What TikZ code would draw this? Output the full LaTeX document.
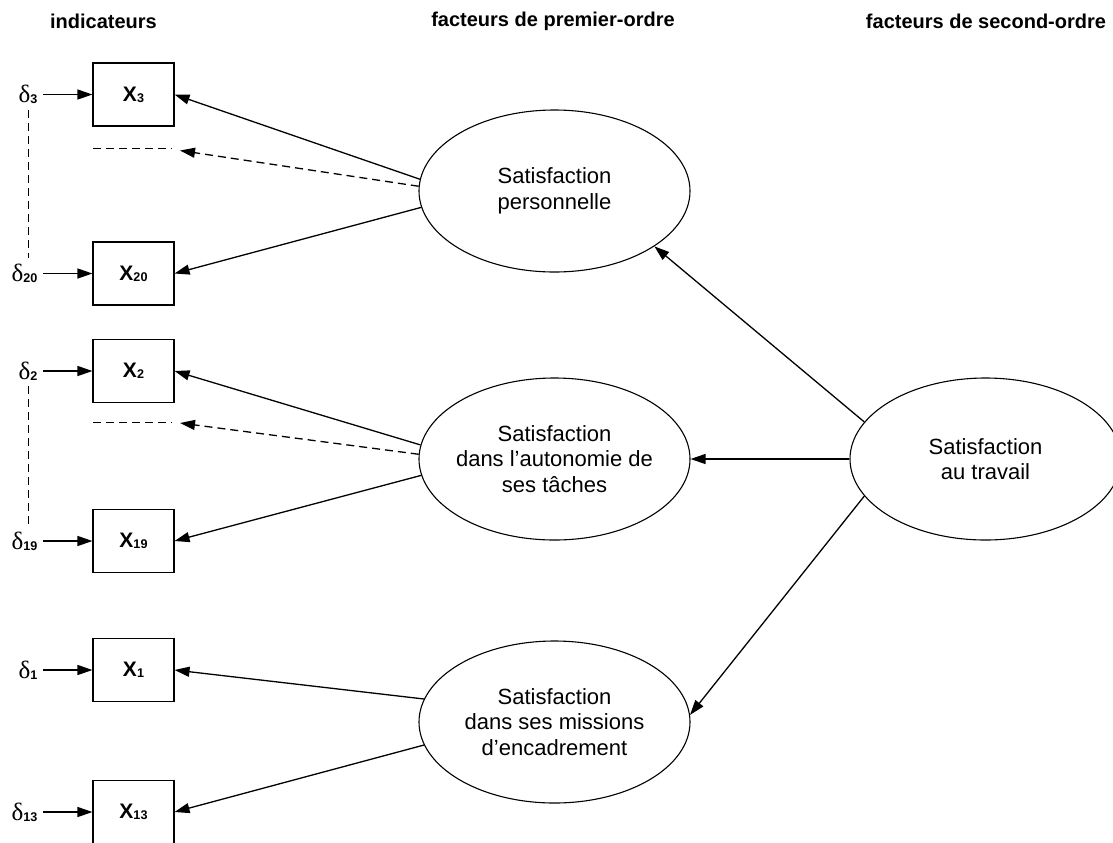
\documentclass[tikz,border=0pt]{standalone}
\usepackage{fontspec}
\setmainfont{Liberation Sans}
\newfontfamily\greekfont{Liberation Serif}
\usetikzlibrary{arrows.meta, shapes.geometric, positioning}

\newcommand{\idx}[1]{{\fontsize{6.3pt}{6.3pt}\selectfont\bfseries\raisebox{-0.6pt}{#1}}}
\newcommand{\dlt}[1]{{\greekfont\fontsize{12.5pt}{13pt}\selectfont δ}\idx{#1}}
\newcommand{\xvar}[1]{X\idx{#1}}

\begin{document}
\begin{tikzpicture}[x=0.5pt, y=-0.5pt, line width=0.65pt,
    ind/.style={draw, line width=0.55pt, minimum width=40.5pt, minimum height=31.5pt, inner sep=0pt,
                font=\fontsize{10.5pt}{11pt}\selectfont\bfseries},
    err/.style={inner sep=0pt, outer sep=3pt},
    fac/.style={draw, line width=0.55pt, ellipse, minimum width=135.5pt, minimum height=81pt, inner sep=0pt},
    factxt/.style={align=center, font=\fontsize{11pt}{12.85pt}\selectfont},
    head/.style={font=\fontsize{10pt}{12pt}\selectfont\bfseries},
    load/.style={-{Triangle[length=7.5pt, width=5pt]}},
    gap/.style={dash pattern=on 4pt off 2.5pt}]
    \useasboundingbox (0,0) rectangle (1113,842);

    % column titles
    \node[head] (hind) at (103.5,21) {indicateurs};
    \node[head] (hpre) at (553,21) {facteurs de premier-ordre};
    \node[head] (hsec) at (986,21) {facteurs de second-ordre};

    % factors
    \node[fac] (perso) at (554.5,191) {};
    \node[factxt] at (perso) {Satisfaction\\personnelle};
    \node[fac] (auto) at (554.5,459) {};
    \node[factxt] at (auto) {Satisfaction\\dans l’autonomie de\\ses tâches};
    \node[fac] (encad) at (554.5,722) {};
    \node[factxt] at (encad) {Satisfaction\\dans ses missions\\d’encadrement};
    \node[fac] (trav) at (985.5,459) {};
    \node[factxt] at (trav) {Satisfaction\\au travail};

    % indicators and their errors
    \node[ind] (x3) at (133.5,94.5) {\xvar{3}};
    \node[ind] (x20) at (133.5,273.5) {\xvar{20}};
    \node[ind] (x2) at (133.5,371) {\xvar{2}};
    \node[ind] (x19) at (133.5,541) {\xvar{19}};
    \node[ind] (x1) at (133.5,670) {\xvar{1}};
    \node[ind] (x13) at (133.5,812) {\xvar{13}};

    \node[err, left=24.5pt of x3] (d3) {\dlt{3}};
    \node[err, left=24.5pt of x20] (d20) {\dlt{20}};
    \node[err, left=24.5pt of x2] (d2) {\dlt{2}};
    \node[err, left=24.5pt of x19] (d19) {\dlt{19}};
    \node[err, left=24.5pt of x1] (d1) {\dlt{1}};
    \node[err, left=24.5pt of x13] (d13) {\dlt{13}};

    \draw[load] (d3) -- (x3);
    \draw[load] (d20) -- (x20);
    \draw[load] (d2) -- (x2);
    \draw[load] (d19) -- (x19);
    \draw[load] (d1) -- (x1);
    \draw[load] (d13) -- (x13);

    % omitted indicators
    \draw[gap, line width=0.5pt] (d3.south) -- (d3.south |- d20.north);
    \draw[gap, line width=0.5pt] (d2.south) -- (d2.south |- d19.north);
    \coordinate (g3a) at (93,148);
    \coordinate (g3b) at (172,148);
    \coordinate (g3c) at (180,150.5);
    \coordinate (g2a) at (93,422);
    \coordinate (g2b) at (172,422);
    \coordinate (g2c) at (180,423);
    \draw[gap, line width=0.5pt] (g3a) -- (g3b);
    \draw[gap, line width=0.5pt] (g2a) -- (g2b);

    % first-order loadings
    \draw[load] (perso.175) -- (x3.east);
    \draw[gap, load] (perso.178.7) -- (g3c);
    \draw[load] (perso.187.6) -- (x20.east);
    \draw[load] (auto.174.8) -- (x2.east);
    \draw[gap, load] (auto.178.3) -- (g2c);
    \draw[load] (auto.187.7) -- (x19.east);
    \draw[load] (encad.170.9) -- (x1.east);
    \draw[load] (encad.190.8) -- (x13.east);

    % second-order loadings
    \draw[load] (trav.163.2) -- (perso.-29.3);
    \draw[load] (trav.180) -- (auto.0);
    \draw[load] (trav.197.2) -- (encad.3);
\end{tikzpicture}
\end{document}
